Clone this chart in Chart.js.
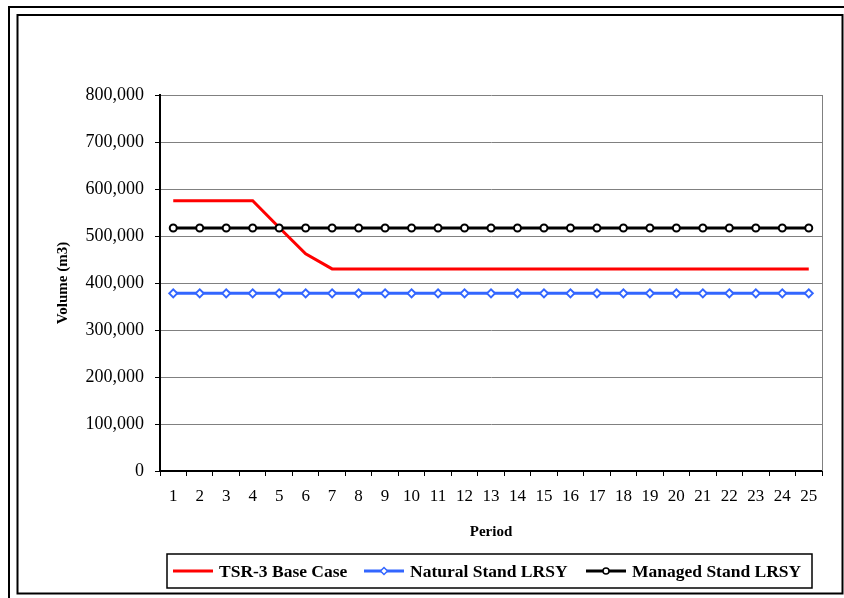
<!DOCTYPE html>
<html>
<head>
<meta charset="utf-8">
<style>
  html, body { margin: 0; padding: 0; background: #ffffff; }
  canvas { display: block; }
</style>
<script src="https://cdn.jsdelivr.net/npm/chart.js@4/dist/chart.umd.min.js"></script>
</head>
<body>
<canvas id="chart" width="844" height="598"></canvas>
<script>
// Harvest volume by period
const periods = ['1','2','3','4','5','6','7','8','9','10','11','12','13','14','15','16','17','18','19','20','21','22','23','24','25'];
const baseCase = [575000, 575000, 575000, 575000, 518000, 462000, 430000, 430000, 430000, 430000,
                  430000, 430000, 430000, 430000, 430000, 430000, 430000, 430000, 430000, 430000,
                  430000, 430000, 430000, 430000, 430000];
const naturalStand = [378000, 378000, 378000, 378000, 378000, 378000, 378000, 378000, 378000, 378000,
                      378000, 378000, 378000, 378000, 378000, 378000, 378000, 378000, 378000, 378000,
                      378000, 378000, 378000, 378000, 378000];
const managedStand = [517000, 517000, 517000, 517000, 517000, 517000, 517000, 517000, 517000, 517000,
                      517000, 517000, 517000, 517000, 517000, 517000, 517000, 517000, 517000, 517000,
                      517000, 517000, 517000, 517000, 517000];
const seriesNames = ['TSR-3 Base Case', 'Natural Stand LRSY', 'Managed Stand LRSY'];
const yMin = 0, yMax = 800000, yStep = 100000;

const SERIF = '"Liberation Serif", "Times New Roman", serif';
const RED = '#ff0000', BLUE = '#3366ff', BLACK = '#000000';

// Page frame, plot border and the boxed legend under the axis
const framePlugin = {
  id: 'frame',
  beforeDraw(chart) {
    const ctx = chart.ctx;
    ctx.save();
    ctx.fillStyle = '#ffffff';
    ctx.fillRect(0, 0, chart.width, chart.height);
    ctx.strokeStyle = '#000000';
    ctx.lineWidth = 2;
    ctx.strokeRect(9, 7, 860, 620);
    ctx.strokeRect(17.5, 15, 825, 578.5);
    ctx.restore();
  },
  afterDraw(chart) {
    const ctx = chart.ctx;
    const a = chart.chartArea;
    ctx.save();
    // right edge of the plot area
    ctx.strokeStyle = '#808080';
    ctx.lineWidth = 1;
    ctx.beginPath();
    ctx.moveTo(Math.round(a.right) + 0.5, a.top);
    ctx.lineTo(Math.round(a.right) + 0.5, a.bottom);
    ctx.stroke();

    // legend
    ctx.strokeStyle = '#000000';
    ctx.lineWidth = 1.5;
    ctx.strokeRect(167, 554, 645, 34);
    const y = 571;
    const starts = [173, 364, 586];
    ctx.font = 'bold 17.5px ' + SERIF;
    ctx.textBaseline = 'middle';
    ctx.textAlign = 'left';
    chart.data.datasets.forEach((ds, i) => {
      const x = starts[i];
      ctx.strokeStyle = ds.borderColor;
      ctx.lineWidth = 3;
      ctx.beginPath();
      ctx.moveTo(x, y);
      ctx.lineTo(x + 40, y);
      ctx.stroke();
      if (ds.pointRadius > 0) {
        ctx.fillStyle = '#ffffff';
        ctx.lineWidth = 1.5;
        ctx.beginPath();
        if (ds.pointStyle === 'rectRot') {
          const r = 3.5;
          ctx.moveTo(x + 20, y - r);
          ctx.lineTo(x + 20 + r, y);
          ctx.lineTo(x + 20, y + r);
          ctx.lineTo(x + 20 - r, y);
          ctx.closePath();
        } else {
          ctx.arc(x + 20, y, 3, 0, Math.PI * 2);
        }
        ctx.fill();
        ctx.stroke();
      }
      ctx.fillStyle = '#000000';
      ctx.fillText(ds.label, x + 46, y + 1);
    });
    ctx.restore();
  }
};

new Chart(document.getElementById('chart'), {
  type: 'line',
  data: {
    labels: periods,
    datasets: [
      {
        label: seriesNames[0],
        data: baseCase,
        borderColor: RED,
        backgroundColor: RED,
        borderWidth: 3,
        pointRadius: 0,
        tension: 0,
        order: 3
      },
      {
        label: seriesNames[1],
        data: naturalStand,
        borderColor: BLUE,
        backgroundColor: '#ffffff',
        borderWidth: 3,
        pointStyle: 'rectRot',
        pointRadius: 4,
        pointBorderWidth: 2,
        tension: 0,
        order: 2
      },
      {
        label: seriesNames[2],
        data: managedStand,
        borderColor: BLACK,
        backgroundColor: '#ffffff',
        borderWidth: 3,
        pointStyle: 'circle',
        pointRadius: 3.5,
        pointBorderWidth: 2,
        tension: 0,
        order: 1
      }
    ]
  },
  options: {
    responsive: false,
    animation: false,
    devicePixelRatio: 1,
    layout: { padding: { top: 95, right: 22, left: 0, bottom: 0 } },
    plugins: {
      legend: { display: false },
      tooltip: { enabled: false }
    },
    scales: {
      x: {
        type: 'category',
        offset: true,
        afterFit(scale) { scale.height = 127; },
        grid: {
          offset: true,
          drawOnChartArea: false,
          drawTicks: true,
          tickLength: 5,
          color: '#000000',
          lineWidth: 1
        },
        border: { display: true, color: '#000000', width: 2 },
        ticks: {
          autoSkip: false,
          maxRotation: 0,
          padding: 10,
          color: '#000000',
          font: { family: SERIF, size: 17 }
        },
        title: {
          display: true,
          text: 'Period',
          color: '#000000',
          font: { family: SERIF, size: 15, weight: 'bold' },
          padding: { top: 0, bottom: 57 }
        }
      },
      y: {
        min: yMin,
        max: yMax,
        afterFit(scale) { scale.width = 160; },
        grid: {
          color: '#808080',
          lineWidth: 1,
          tickLength: 5,
          tickColor: '#000000'
        },
        border: { display: true, color: '#000000', width: 2 },
        ticks: {
          stepSize: yStep,
          padding: 11,
          color: '#000000',
          font: { family: SERIF, size: 18 },
          callback: (v) => v.toLocaleString('en-US')
        },
        title: {
          display: true,
          text: 'Volume (m3)',
          color: '#000000',
          font: { family: SERIF, size: 15, weight: 'bold' },
          padding: { top: 54, bottom: 0 }
        }
      }
    }
  },
  plugins: [framePlugin]
});
</script>
</body>
</html>
